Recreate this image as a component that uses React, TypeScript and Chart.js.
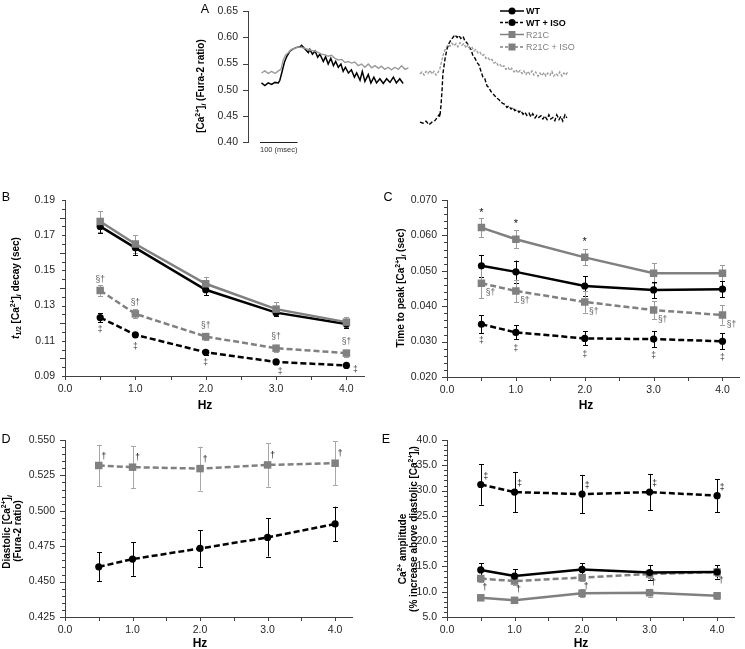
import React, { useEffect, useRef } from 'react';
import { Chart, registerables } from 'chart.js';

Chart.register(...registerables);

const FONT = '"Liberation Sans", Arial, Helvetica, sans-serif';
const BLACK = '#000000';
const GRAY = '#808080';
const LGRAY = '#9a9a9a';
const ERR_GRAY = '#9c9c9c';
const AXIS = '#404040';
const LABEL = '#262626';

// ---------------- DATA ----------------
const HZ = [0.5, 1, 2, 3, 4];

// Panel A: representative traces (time in msec, value = Fura-2 ratio)
const A_WT_T = [4, 13, 22, 31, 40, 49, 53, 58, 65, 71, 80, 89, 98, 107, 111, 120, 129, 133, 140, 147, 154, 160, 169, 175, 182, 189, 196, 202, 209, 216, 222, 228, 236, 244, 252, 258, 267, 273, 280, 289, 296, 304, 311, 320, 329, 338, 347, 356, 364, 373, 382];
const A_WT_V = [0.513, 0.508, 0.513, 0.510, 0.514, 0.513, 0.518, 0.532, 0.552, 0.563, 0.574, 0.578, 0.581, 0.582, 0.585, 0.578, 0.571, 0.577, 0.568, 0.574, 0.562, 0.568, 0.554, 0.563, 0.549, 0.560, 0.546, 0.554, 0.543, 0.549, 0.535, 0.543, 0.532, 0.538, 0.524, 0.532, 0.518, 0.535, 0.516, 0.529, 0.513, 0.524, 0.513, 0.521, 0.512, 0.521, 0.514, 0.524, 0.513, 0.521, 0.512];
const A_R21C_T = [4, 13, 22, 31, 40, 49, 56, 62, 68, 76, 84, 93, 102, 111, 120, 129, 138, 147, 156, 164, 173, 182, 191, 200, 209, 218, 227, 236, 244, 253, 262, 271, 280, 289, 298, 307, 316, 324, 333, 342, 351, 360, 369, 378, 387, 396];
const A_R21C_V = [0.532, 0.536, 0.531, 0.535, 0.531, 0.536, 0.539, 0.557, 0.566, 0.571, 0.577, 0.579, 0.582, 0.581, 0.579, 0.577, 0.575, 0.574, 0.571, 0.568, 0.567, 0.564, 0.566, 0.560, 0.557, 0.558, 0.552, 0.554, 0.551, 0.553, 0.546, 0.549, 0.543, 0.549, 0.542, 0.546, 0.541, 0.545, 0.539, 0.543, 0.538, 0.543, 0.539, 0.546, 0.539, 0.542];
const A_WTISO_T = [0, 8, 16, 24, 32, 40, 45, 51, 53, 56, 59, 61, 67, 72, 77, 83, 88, 93, 99, 104, 109, 115, 120, 125, 131, 136, 141, 147, 152, 157, 163, 168, 173, 179, 184, 189, 195, 200, 205, 211, 216, 221, 227, 232, 237, 243, 248, 253, 259, 264, 269, 275, 280, 285, 291, 296, 301, 307, 312, 317, 323, 328, 333, 339, 344, 349, 355, 360, 365, 371, 376, 381, 387, 392];
const A_WTISO_V = [0.438, 0.436, 0.440, 0.433, 0.438, 0.441, 0.446, 0.452, 0.448, 0.470, 0.500, 0.530, 0.560, 0.578, 0.588, 0.596, 0.600, 0.605, 0.600, 0.604, 0.598, 0.602, 0.593, 0.590, 0.582, 0.577, 0.566, 0.560, 0.552, 0.548, 0.535, 0.524, 0.521, 0.507, 0.504, 0.497, 0.492, 0.488, 0.484, 0.481, 0.476, 0.474, 0.472, 0.466, 0.469, 0.463, 0.466, 0.460, 0.462, 0.457, 0.460, 0.453, 0.457, 0.451, 0.455, 0.448, 0.454, 0.446, 0.451, 0.447, 0.450, 0.444, 0.450, 0.443, 0.452, 0.444, 0.447, 0.441, 0.452, 0.443, 0.449, 0.440, 0.452, 0.446];
const A_R21CISO_T = [0, 5, 11, 16, 21, 27, 32, 37, 43, 48, 53, 59, 64, 69, 75, 80, 85, 91, 96, 101, 107, 112, 117, 123, 128, 133, 139, 144, 149, 155, 160, 165, 171, 176, 181, 187, 192, 197, 203, 208, 213, 219, 224, 229, 235, 240, 245, 251, 256, 261, 267, 272, 277, 283, 288, 293, 299, 304, 309, 315, 320, 325, 331, 336, 341, 347, 352, 357, 363, 368, 373, 379, 384, 389, 395];
const A_R21CISO_V = [0.530, 0.534, 0.528, 0.535, 0.531, 0.537, 0.530, 0.535, 0.528, 0.533, 0.540, 0.558, 0.572, 0.580, 0.586, 0.583, 0.589, 0.584, 0.588, 0.582, 0.590, 0.585, 0.588, 0.580, 0.586, 0.578, 0.581, 0.574, 0.577, 0.570, 0.572, 0.565, 0.567, 0.560, 0.562, 0.556, 0.558, 0.551, 0.553, 0.547, 0.549, 0.543, 0.546, 0.539, 0.543, 0.537, 0.541, 0.534, 0.538, 0.532, 0.537, 0.531, 0.536, 0.529, 0.535, 0.530, 0.536, 0.528, 0.534, 0.526, 0.532, 0.527, 0.533, 0.526, 0.532, 0.528, 0.535, 0.526, 0.531, 0.527, 0.534, 0.526, 0.532, 0.528, 0.535];
const A_RIGHT_OFFSET_MS = 427;
const A_SCALE_BAR_MS = 100;
const LEGEND_LABELS = ['WT', 'WT + ISO', 'R21C', 'R21C + ISO'];

// Panel B: t1/2 decay (sec)
const B_WT = [0.175, 0.1628, 0.139, 0.126, 0.1195];
const B_WT_ERR = [0.004, 0.004, 0.003, 0.002, 0.002];
const B_R21C = [0.1778, 0.165, 0.1424, 0.128, 0.1206];
const B_R21C_ERR = [0.006, 0.005, 0.004, 0.004, 0.003];
const B_R21C_ISO = [0.1386, 0.1253, 0.1124, 0.1058, 0.103];
const B_R21C_ISO_ERR = [0.003, 0.0025, 0.002, 0.002, 0.002];
const B_WT_ISO = [0.1232, 0.1134, 0.1035, 0.098, 0.096];
const B_WT_ISO_ERR = [0.0025, 0.0015, 0.0015, 0.0012, 0.001];
const B_R21C_ISO_MARK = ['§†', '§†', '§†', '§†', '§†'];
const B_WT_ISO_MARK = ['‡', '‡', '‡', '‡', '‡'];

// Panel C: time to peak (sec)
const C_R21C = [0.0622, 0.0589, 0.0538, 0.0493, 0.0493];
const C_R21C_ERR = [0.0027, 0.0025, 0.0023, 0.0028, 0.0023];
const C_WT = [0.0514, 0.0497, 0.0457, 0.0446, 0.0448];
const C_WT_ERR = [0.0031, 0.0032, 0.0027, 0.0023, 0.0023];
const C_R21C_ISO = [0.0465, 0.0443, 0.0412, 0.0389, 0.0375];
const C_R21C_ISO_ERR = [0.0043, 0.0032, 0.003, 0.0025, 0.0027];
const C_WT_ISO = [0.0349, 0.0326, 0.0309, 0.0307, 0.0301];
const C_WT_ISO_ERR = [0.0026, 0.002, 0.002, 0.0023, 0.0023];
const C_R21C_MARK = ['*', '*', '*', '', ''];
const C_R21C_ISO_MARK = ['§†', '§†', '§†', '§†', '§†'];
const C_WT_ISO_MARK = ['‡', '‡', '‡', '‡', '‡'];

// Panel D: diastolic (Fura-2 ratio)
const D_R21C_ISO = [0.532, 0.5308, 0.5298, 0.5324, 0.5336];
const D_R21C_ISO_ERR = [0.0145, 0.015, 0.0155, 0.0154, 0.0155];
const D_WT_ISO = [0.4604, 0.4659, 0.4734, 0.4812, 0.4907];
const D_WT_ISO_ERR = [0.0102, 0.0118, 0.013, 0.0135, 0.0122];
const D_R21C_ISO_MARK = ['†', '†', '†', '†', '†'];

// Panel E: amplitude (%)
const E_WT_ISO = [31.2, 29.7, 29.3, 29.7, 29.0];
const E_WT_ISO_ERR = [4.0, 4.0, 3.8, 3.6, 3.3];
const E_WT = [14.3, 13.1, 14.4, 13.8, 13.9];
const E_WT_ERR = [1.35, 1.3, 1.2, 1.4, 1.3];
const E_R21C_ISO = [12.6, 12.1, 12.8, 13.5, 13.9];
const E_R21C_ISO_ERR = [0.7, 0.7, 0.7, 0.8, 0.8];
const E_R21C = [8.8, 8.3, 9.7, 9.8, 9.2];
const E_R21C_ERR = [0.4, 0.6, 0.8, 0.8, 0.7];
const E_WT_ISO_MARK = ['‡', '‡', '‡', '‡', '‡'];
const E_R21C_ISO_MARK = ['†', '†', '†', '†', '†'];

// ---------------- DRAWING HELPERS ----------------
function parseRich(s: string) {
  const segs: { t: string; k: string }[] = [];
  const re = /\^\{([^}]*)\}|_\{([^}]*)\}|~\{([^}]*)\}|([^\^_~]+)/g;
  let m: any;
  while ((m = re.exec(s))) {
    if (m[1] !== undefined) segs.push({ t: m[1], k: 'sup' });
    else if (m[2] !== undefined) segs.push({ t: m[2], k: 'sub' });
    else if (m[3] !== undefined) segs.push({ t: m[3], k: 'it' });
    else segs.push({ t: m[4], k: 'n' });
  }
  return segs;
}

function drawRich(ctx: CanvasRenderingContext2D, text: string, x: number, y: number, size: number, bold: boolean, color: string, rot: boolean, align = 'center') {
  const segs = parseRich(text);
  const fontFor = (sg: any) => {
    const small = sg.k === 'sup' || sg.k === 'sub';
    const it = sg.k === 'it' || (sg.k === 'sub' && sg.t === 'i');
    return `${it ? 'italic ' : ''}${bold ? 'bold ' : ''}${small ? size * 0.68 : size}px ${FONT}`;
  };
  ctx.save();
  ctx.translate(x, y);
  if (rot) ctx.rotate(-Math.PI / 2);
  const widths = segs.map((sg) => {
    ctx.font = fontFor(sg);
    return ctx.measureText(sg.t).width;
  });
  const total = widths.reduce((a, b) => a + b, 0);
  let cx = align === 'center' ? -total / 2 : align === 'right' ? -total : 0;
  ctx.textAlign = 'left';
  ctx.textBaseline = 'alphabetic';
  ctx.fillStyle = color;
  const base = size * 0.36;
  segs.forEach((sg, i) => {
    ctx.font = fontFor(sg);
    const dy = sg.k === 'sup' ? -size * 0.38 : sg.k === 'sub' ? size * 0.22 : 0;
    ctx.fillText(sg.t, cx, base + dy);
    cx += widths[i];
  });
  ctx.restore();
}

type Series = {
  x: number[];
  y: number[];
  xOffset?: number;
  err?: number[];
  color: string;
  errColor?: string;
  dash?: number[];
  marker: string | false;
  width: number;
  marks?: string[];
  markDx?: number | number[];
  markDy?: number | number[];
  markColor?: string;
  markSize?: number;
};

type TextItem = { s: string; x: number; y: number; size: number; bold?: boolean; rot?: boolean; color?: string };

type Panel = {
  box: number[];
  area: number[];
  xMin: number;
  xMax: number;
  xShow: boolean;
  xMinor: number;
  yMin: number;
  yMax: number;
  yStep: number;
  yMinor: number;
  yDec: number;
  series: Series[];
  texts: TextItem[];
  extra?: (ctx: CanvasRenderingContext2D, chart: any, ox: number, oy: number) => void;
};

const pick = (v: number | number[] | undefined, i: number) => (Array.isArray(v) ? v[i] : v || 0);

function makePlugin(p: Panel) {
  const [bl, bt] = p.box;
  return {
    id: 'panelDecor',
    beforeDatasetsDraw(chart: any) {
      const ctx = chart.ctx as CanvasRenderingContext2D;
      const ys = chart.scales.y;
      ctx.save();
      p.series.forEach((s, di) => {
        if (!s.err) return;
        const meta = chart.getDatasetMeta(di);
        ctx.strokeStyle = s.errColor || s.color;
        ctx.lineWidth = 1;
        s.err.forEach((e, j) => {
          const el = meta.data[j];
          if (!el) return;
          const px = Math.round(el.x) + 0.5;
          const top = ys.getPixelForValue(s.y[j] + e);
          const bot = ys.getPixelForValue(s.y[j] - e);
          ctx.beginPath();
          ctx.moveTo(px, top);
          ctx.lineTo(px, bot);
          ctx.moveTo(px - 2.5, Math.round(top) + 0.5);
          ctx.lineTo(px + 2.5, Math.round(top) + 0.5);
          ctx.moveTo(px - 2.5, Math.round(bot) + 0.5);
          ctx.lineTo(px + 2.5, Math.round(bot) + 0.5);
          ctx.stroke();
        });
      });
      ctx.restore();
    },
    afterDatasetsDraw(chart: any) {
      const ctx = chart.ctx as CanvasRenderingContext2D;
      p.series.forEach((s, di) => {
        if (!s.marks) return;
        const meta = chart.getDatasetMeta(di);
        s.marks.forEach((m, j) => {
          const el = meta.data[j];
          if (!el || !m) return;
          drawRich(ctx, m, el.x + pick(s.markDx, j), el.y + pick(s.markDy, j), s.markSize || 8.5, false, s.markColor || BLACK, false);
        });
      });
    },
    afterDraw(chart: any) {
      const ctx = chart.ctx as CanvasRenderingContext2D;
      const { left, bottom } = chart.chartArea;
      const xs = chart.scales.x;
      const ys = chart.scales.y;
      ctx.save();
      ctx.strokeStyle = AXIS;
      ctx.lineWidth = 1;
      ctx.beginPath();
      if (p.xShow) {
        const n = Math.round((p.xMax - p.xMin) / p.xMinor);
        for (let k = 0; k <= n; k++) {
          const v = p.xMin + k * p.xMinor;
          if (v > p.xMax + 1e-9) break;
          const px = Math.round(xs.getPixelForValue(v)) + 0.5;
          ctx.moveTo(px, bottom);
          ctx.lineTo(px, bottom + 4);
        }
      }
      const ny = Math.round((p.yMax - p.yMin) / p.yMinor);
      for (let k = 0; k <= ny; k++) {
        const v = p.yMin + k * p.yMinor;
        const r = v / p.yStep;
        const major = Math.abs(r - Math.round(r)) < 1e-6;
        const len = major ? 5 : 3;
        const py = Math.round(ys.getPixelForValue(v)) + 0.5;
        ctx.moveTo(left - len, py);
        ctx.lineTo(left, py);
      }
      ctx.stroke();
      ctx.restore();
      p.texts.forEach((t) => drawRich(ctx, t.s, t.x - bl, t.y - bt, t.size, !!t.bold, t.color || BLACK, !!t.rot));
      if (p.extra) p.extra(ctx, chart, bl, bt);
    },
  };
}

function buildConfig(p: Panel): any {
  const [bl, bt, bw, bh] = p.box;
  const [al, at, ar, ab] = p.area;
  const datasets = p.series.map((s) => ({
    data: s.x.map((x, i) => ({ x: x + (s.xOffset || 0), y: s.y[i] })),
    borderColor: s.color,
    backgroundColor: s.color,
    borderWidth: s.width,
    borderDash: s.dash || [],
    pointStyle: s.marker || 'circle',
    pointRadius: s.marker ? (s.marker === 'rect' ? 5.3 : 3.6) : 0,
    pointHoverRadius: 0,
    pointBorderWidth: 0,
    pointBackgroundColor: s.color,
    pointBorderColor: s.color,
    tension: 0,
    fill: false,
  }));
  const tickFont = { family: FONT, size: 10.5 };
  return {
    type: 'line',
    data: { datasets },
    options: {
      responsive: false,
      animation: false,
      devicePixelRatio: 1,
      events: [],
      layout: { padding: { left: 0, top: at - bt, right: bl + bw - ar, bottom: p.xShow ? 0 : bt + bh - ab } },
      plugins: { legend: { display: false }, tooltip: { enabled: false } },
      scales: {
        x: {
          type: 'linear',
          display: p.xShow,
          min: p.xMin,
          max: p.xMax,
          bounds: 'data',
          grid: { display: false, drawTicks: true, tickLength: 4 },
          border: { display: true, color: AXIS, width: 1 },
          ticks: {
            stepSize: 1,
            includeBounds: false,
            autoSkip: false,
            maxRotation: 0,
            padding: 3,
            color: LABEL,
            font: tickFont,
            callback: (v: number) => (Math.abs(v - Math.round(v)) < 1e-6 ? Number(v).toFixed(1) : ''),
          },
          afterFit: (s: any) => {
            s.height = bt + bh - ab;
          },
        },
        y: {
          type: 'linear',
          position: 'left',
          min: p.yMin,
          max: p.yMax,
          bounds: 'data',
          grid: { display: false, drawTicks: true, tickLength: 5 },
          border: { display: true, color: AXIS, width: 1 },
          ticks: {
            stepSize: p.yStep,
            autoSkip: false,
            padding: 5,
            color: LABEL,
            font: tickFont,
            callback: (v: number) => Number(v).toFixed(p.yDec),
          },
          afterFit: (s: any) => {
            s.width = al - bl;
          },
        },
      },
    },
    plugins: [makePlugin(p)],
  };
}

// ---------------- PANELS ----------------
const DASH = [6, 3];
const LW = 2.5;

const panelA: Panel = {
  box: [188, 0, 392, 180],
  area: [248, 11, 571, 161],
  xMin: -32,
  xMax: 830,
  xShow: false,
  xMinor: 100,
  yMin: 0.4,
  yMax: 0.65,
  yStep: 0.05,
  yMinor: 0.05,
  yDec: 2,
  series: [
    { x: A_R21C_T, y: A_R21C_V, color: LGRAY, marker: false, width: 1.4 },
    { x: A_WT_T, y: A_WT_V, color: BLACK, marker: false, width: 1.5 },
    { x: A_R21CISO_T, y: A_R21CISO_V, xOffset: A_RIGHT_OFFSET_MS, color: LGRAY, dash: [3, 1.5], marker: false, width: 1.3 },
    { x: A_WTISO_T, y: A_WTISO_V, xOffset: A_RIGHT_OFFSET_MS, color: BLACK, dash: [4, 2], marker: false, width: 1.4 },
  ],
  texts: [
    { s: 'A', x: 205, y: 8, size: 12.5 },
    { s: '[Ca^{2+}]_{i} (Fura-2 ratio)', x: 200, y: 86, size: 10, bold: true, rot: true },
  ],
  extra: (ctx, chart, ox, oy) => {
    const xs = chart.scales.x;
    const ys = chart.scales.y;
    const x0 = xs.getPixelForValue(0);
    const x1 = xs.getPixelForValue(A_SCALE_BAR_MS);
    const y = Math.round(ys.getPixelForValue(0.4)) + 0.5;
    ctx.save();
    ctx.strokeStyle = '#222';
    ctx.lineWidth = 1.2;
    ctx.beginPath();
    ctx.moveTo(x0, y);
    ctx.lineTo(x1, y);
    ctx.stroke();
    ctx.restore();
    drawRich(ctx, '100 (msec)', (x0 + x1) / 2, y + 7, 7.5, false, '#333', false);
    // legend
    const rows = [11, 22.5, 34.5, 47];
    const styles = [
      { c: BLACK, dash: [] as number[], m: 'circle', bold: true },
      { c: BLACK, dash: [3, 2], m: 'circle', bold: true },
      { c: GRAY, dash: [] as number[], m: 'rect', bold: false },
      { c: GRAY, dash: [3, 2], m: 'rect', bold: false },
    ];
    LEGEND_LABELS.forEach((lab, i) => {
      const st = styles[i];
      const yy = rows[i] - oy;
      const lx0 = 500 - ox;
      const lx1 = 524 - ox;
      const mx = 512 - ox;
      ctx.save();
      ctx.strokeStyle = st.c;
      ctx.fillStyle = st.c;
      ctx.lineWidth = 1.5;
      ctx.setLineDash(st.dash);
      ctx.beginPath();
      ctx.moveTo(lx0, yy);
      ctx.lineTo(lx1, yy);
      ctx.stroke();
      ctx.setLineDash([]);
      ctx.beginPath();
      if (st.m === 'circle') ctx.arc(mx, yy, 3.5, 0, Math.PI * 2);
      else ctx.rect(mx - 3.5, yy - 3.5, 7, 7);
      ctx.fill();
      ctx.restore();
      drawRich(ctx, lab, 526 - ox, yy, 9, st.bold, st.bold ? BLACK : GRAY, false, 'left');
    });
  },
};

const panelB: Panel = {
  box: [0, 185, 372, 235],
  area: [65, 200, 364, 376],
  xMin: 0,
  xMax: 4.25,
  xShow: true,
  xMinor: 0.5,
  yMin: 0.09,
  yMax: 0.19,
  yStep: 0.02,
  yMinor: 0.005,
  yDec: 2,
  series: [
    { x: HZ, y: B_R21C, err: B_R21C_ERR, color: GRAY, errColor: ERR_GRAY, marker: 'rect', width: LW },
    { x: HZ, y: B_WT, err: B_WT_ERR, color: BLACK, marker: 'circle', width: LW },
    { x: HZ, y: B_R21C_ISO, err: B_R21C_ISO_ERR, color: GRAY, errColor: ERR_GRAY, dash: DASH, marker: 'rect', width: LW, marks: B_R21C_ISO_MARK, markDx: 0, markDy: -12, markColor: '#5a5a5a' },
    { x: HZ, y: B_WT_ISO, err: B_WT_ISO_ERR, color: BLACK, dash: DASH, marker: 'circle', width: LW, marks: B_WT_ISO_MARK, markDx: [0, 0, 0, 4, 9], markDy: [11, 11, 10, 9, 3], markColor: '#444' },
  ],
  texts: [
    { s: 'B', x: 6, y: 196, size: 12.5 },
    { s: '~{t}_{1/2} [Ca^{2+}]_{i} decay (sec)', x: 15, y: 288, size: 10, bold: true, rot: true },
    { s: 'Hz', x: 205, y: 405, size: 12, bold: true },
  ],
};

const panelC: Panel = {
  box: [375, 185, 370, 235],
  area: [447, 200, 744, 377],
  xMin: 0,
  xMax: 4.25,
  xShow: true,
  xMinor: 0.5,
  yMin: 0.02,
  yMax: 0.07,
  yStep: 0.01,
  yMinor: 0.002,
  yDec: 3,
  series: [
    { x: HZ, y: C_R21C, err: C_R21C_ERR, color: GRAY, errColor: ERR_GRAY, marker: 'rect', width: LW, marks: C_R21C_MARK, markDx: 0, markDy: -16, markSize: 11, markColor: '#111' },
    { x: HZ, y: C_WT, err: C_WT_ERR, color: BLACK, marker: 'circle', width: LW },
    { x: HZ, y: C_R21C_ISO, err: C_R21C_ISO_ERR, color: GRAY, errColor: ERR_GRAY, dash: DASH, marker: 'rect', width: LW, marks: C_R21C_ISO_MARK, markDx: 9, markDy: 9, markColor: '#5a5a5a' },
    { x: HZ, y: C_WT_ISO, err: C_WT_ISO_ERR, color: BLACK, dash: DASH, marker: 'circle', width: LW, marks: C_WT_ISO_MARK, markDx: 0, markDy: 16, markColor: '#444' },
  ],
  texts: [
    { s: 'C', x: 388, y: 196, size: 12.5 },
    { s: 'Time to peak [Ca^{2+}]_{i} (sec)', x: 400, y: 288, size: 10, bold: true, rot: true },
    { s: 'Hz', x: 586, y: 405, size: 12, bold: true },
  ],
};

const panelD: Panel = {
  box: [0, 425, 372, 224],
  area: [65, 440, 352, 617],
  xMin: 0,
  xMax: 4.25,
  xShow: true,
  xMinor: 0.5,
  yMin: 0.425,
  yMax: 0.55,
  yStep: 0.025,
  yMinor: 0.005,
  yDec: 3,
  series: [
    { x: HZ, y: D_R21C_ISO, err: D_R21C_ISO_ERR, color: GRAY, errColor: '#a8a8a8', dash: DASH, marker: 'rect', width: LW, marks: D_R21C_ISO_MARK, markDx: 5, markDy: -10, markColor: '#111' },
    { x: HZ, y: D_WT_ISO, err: D_WT_ISO_ERR, color: BLACK, dash: DASH, marker: 'circle', width: LW },
  ],
  texts: [
    { s: 'D', x: 6, y: 438, size: 12.5 },
    { s: 'Diastolic [Ca^{2+}]_{i}', x: 6, y: 532, size: 10, bold: true, rot: true },
    { s: '(Fura-2 ratio)', x: 17, y: 531, size: 10, bold: true, rot: true },
    { s: 'Hz', x: 200, y: 643, size: 12, bold: true },
  ],
};

const panelE: Panel = {
  box: [375, 425, 370, 224],
  area: [447, 440, 734, 617],
  xMin: 0,
  xMax: 4.25,
  xShow: true,
  xMinor: 0.5,
  yMin: 5,
  yMax: 40,
  yStep: 5,
  yMinor: 1,
  yDec: 1,
  series: [
    { x: HZ, y: E_WT, err: E_WT_ERR, color: BLACK, marker: 'circle', width: LW },
    { x: HZ, y: E_WT_ISO, err: E_WT_ISO_ERR, color: BLACK, dash: DASH, marker: 'circle', width: LW, marks: E_WT_ISO_MARK, markDx: 5, markDy: -9, markColor: '#111' },
    { x: HZ, y: E_R21C_ISO, err: E_R21C_ISO_ERR, color: GRAY, errColor: ERR_GRAY, dash: DASH, marker: 'rect', width: LW, marks: E_R21C_ISO_MARK, markDx: 4, markDy: 8, markColor: '#111' },
    { x: HZ, y: E_R21C, err: E_R21C_ERR, color: GRAY, errColor: ERR_GRAY, marker: 'rect', width: LW },
  ],
  texts: [
    { s: 'E', x: 386, y: 438, size: 12.5 },
    { s: 'Ca^{2+} amplitude', x: 402, y: 549, size: 10, bold: true, rot: true },
    { s: '(% increase above diastolic [Ca^{2+}]_{i})', x: 413, y: 529, size: 10, bold: true, rot: true },
    { s: 'Hz', x: 581, y: 643, size: 12, bold: true },
  ],
};

const PANELS = [panelA, panelB, panelC, panelD, panelE];

function PanelChart({ p }: { p: Panel }) {
  const ref = useRef<HTMLCanvasElement>(null);
  useEffect(() => {
    const c = ref.current;
    if (!c) return;
    const chart = new Chart(c, buildConfig(p));
    return () => chart.destroy();
  }, [p]);
  const [bl, bt, bw, bh] = p.box;
  return (
    <div style={{ position: 'absolute', left: bl, top: bt, width: bw, height: bh }}>
      <canvas ref={ref} width={bw} height={bh} style={{ width: bw, height: bh, display: 'block' }} />
    </div>
  );
}

export default function App() {
  return (
    <div style={{ position: 'absolute', left: 0, top: 0, width: 745, height: 649, background: '#ffffff', overflow: 'hidden' }}>
      {PANELS.map((p, i) => (
        <PanelChart key={i} p={p} />
      ))}
    </div>
  );
}
